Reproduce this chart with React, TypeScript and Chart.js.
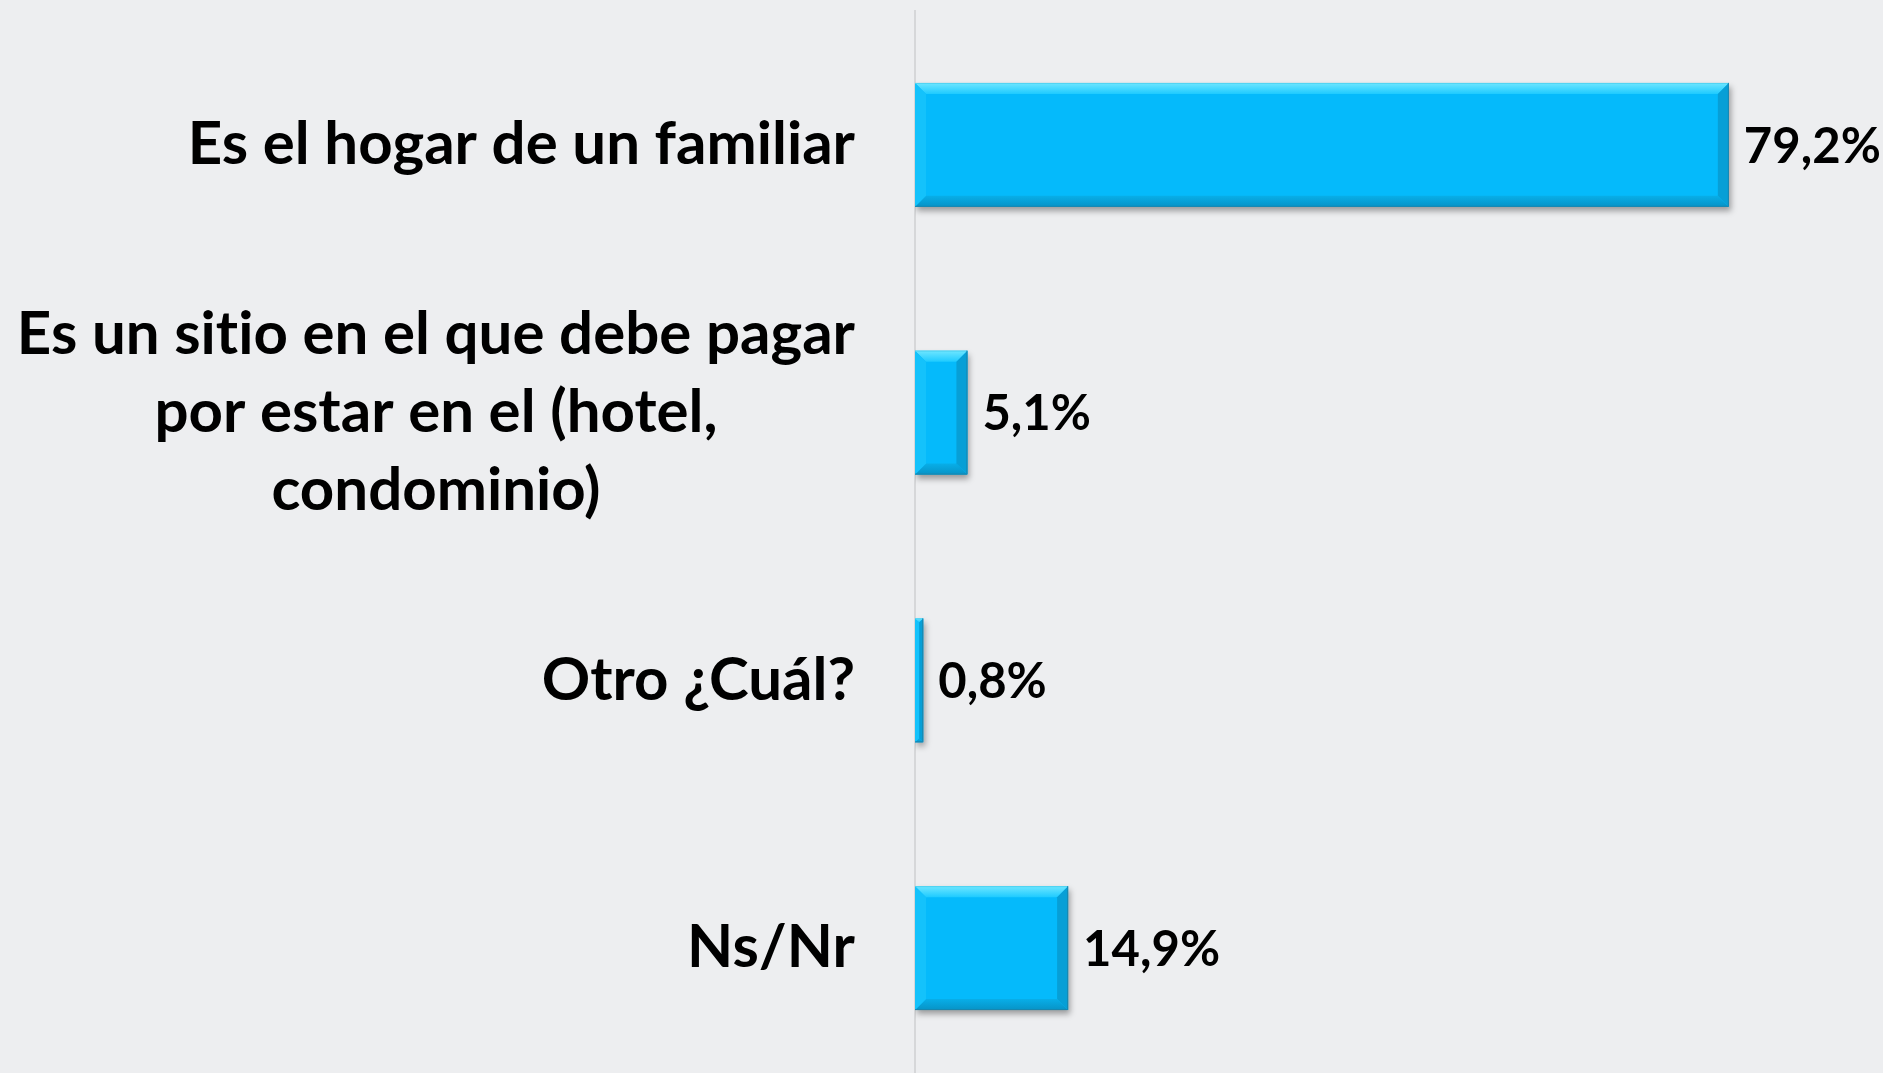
import React, { useEffect, useRef } from "react";
import { Chart, registerables } from "chart.js";

Chart.register(...registerables);

const categories: (string | string[])[] = [
  "Es el hogar de un familiar",
  ["Es un sitio en el que debe pagar", "por estar en el (hotel,", "condominio)"],
  "Otro ¿Cuál?",
  "Ns/Nr",
];
const values: number[] = [79.2, 5.1, 0.8, 14.9];
const valueLabels: string[] = ["79,2%", "5,1%", "0,8%", "14,9%"];

const BG = "#EDEEF0";
const BAR = "#05BAFB";
const FONT_FAMILY = "Lato, 'Open Sans', sans-serif";
const CAT_FONT = `bold 60px ${FONT_FAMILY}`;
const VAL_FONT = `bold 49px ${FONT_FAMILY}`;

const bgPlugin = {
  id: "bgFill",
  beforeDraw(chart: any) {
    const { ctx, width, height } = chart;
    ctx.save();
    ctx.fillStyle = BG;
    ctx.fillRect(0, 0, width, height);
    ctx.restore();
  },
};

const shadowPlugin = {
  id: "barShadow",
  beforeDatasetDraw(chart: any) {
    const ctx = chart.ctx;
    ctx.save();
    ctx.shadowColor = "rgba(0,0,0,0.35)";
    ctx.shadowBlur = 6;
    ctx.shadowOffsetX = 2;
    ctx.shadowOffsetY = 4;
  },
  afterDatasetDraw(chart: any) {
    chart.ctx.restore();
  },
};

function poly(ctx: CanvasRenderingContext2D, pts: number[][], fill: string | CanvasGradient) {
  ctx.beginPath();
  ctx.moveTo(pts[0][0], pts[0][1]);
  for (let i = 1; i < pts.length; i++) ctx.lineTo(pts[i][0], pts[i][1]);
  ctx.closePath();
  ctx.fillStyle = fill;
  ctx.fill();
}

const bevelAndLabels = {
  id: "bevelAndLabels",
  afterDatasetsDraw(chart: any) {
    const ctx: CanvasRenderingContext2D = chart.ctx;
    const meta = chart.getDatasetMeta(0);
    ctx.save();
    try {
      (ctx as any).letterSpacing = "0.01px";
    } catch (e) {}
    meta.data.forEach((bar: any, i: number) => {
      const l = Math.min(bar.base, bar.x);
      const r = Math.max(bar.base, bar.x);
      const t = bar.y - bar.height / 2;
      const b = bar.y + bar.height / 2;
      const w = r - l;
      const bv = Math.min(11, w / 2);
      const gTop = ctx.createLinearGradient(0, t, 0, t + bv);
      gTop.addColorStop(0, "#6FE6FF");
      gTop.addColorStop(1, "#1FCBFF");
      poly(ctx, [[l, t], [r, t], [r - bv, t + bv], [l + bv, t + bv]], gTop);
      const gBot = ctx.createLinearGradient(0, b - bv, 0, b);
      gBot.addColorStop(0, "#08AEE8");
      gBot.addColorStop(1, "#0793C6");
      poly(ctx, [[l, b], [r, b], [r - bv, b - bv], [l + bv, b - bv]], gBot);
      poly(ctx, [[r, t], [r, b], [r - bv, b - bv], [r - bv, t + bv]], "#079FD6");
      poly(ctx, [[l, t], [l, b], [l + bv, b - bv], [l + bv, t + bv]], "#14C2FB");
      ctx.lineWidth = 1;
      ctx.strokeStyle = "#4FD3F2";
      ctx.beginPath();
      ctx.moveTo(l, t + 0.5);
      ctx.lineTo(r, t + 0.5);
      ctx.stroke();
      ctx.strokeStyle = "#1A86AE";
      ctx.beginPath();
      ctx.moveTo(l, b - 0.5);
      ctx.lineTo(r - 0.5, b - 0.5);
      ctx.lineTo(r - 0.5, t);
      ctx.stroke();

      ctx.font = VAL_FONT;
      ctx.fillStyle = "#000000";
      ctx.textAlign = "left";
      ctx.textBaseline = "middle";
      ctx.fillText(valueLabels[i], r + 15, bar.y + 2);
    });

    const yScale = chart.scales.y;
    const rightX = 855;
    const lineH = 78;
    ctx.font = CAT_FONT;
    ctx.fillStyle = "#000000";
    ctx.textBaseline = "middle";
    categories.forEach((lab, i) => {
      const cy = yScale.getPixelForTick(i);
      if (Array.isArray(lab)) {
        const widest = Math.max(...lab.map((s) => ctx.measureText(s).width));
        const cx = rightX - widest / 2;
        ctx.textAlign = "center";
        const n = lab.length;
        lab.forEach((s, k) => {
          ctx.fillText(s, cx, cy + (k - (n - 1) / 2) * lineH);
        });
      } else {
        ctx.textAlign = "right";
        ctx.fillText(lab, rightX, cy);
      }
    });
    ctx.restore();
  },
};

export default function App() {
  const ref = useRef<HTMLCanvasElement | null>(null);

  useEffect(() => {
    const prevMargin = document.body.style.margin;
    document.body.style.margin = "0";
    document.body.style.background = BG;
    const canvas = ref.current!;
    const chart = new Chart(canvas, {
      type: "bar",
      data: {
        labels: categories as any,
        datasets: [
          {
            data: values,
            backgroundColor: BAR,
            borderWidth: 0,
            categoryPercentage: 1,
            barPercentage: 0.463,
          },
        ],
      },
      options: {
        indexAxis: "y",
        animation: false,
        responsive: false,
        devicePixelRatio: 1,
        layout: { padding: { top: 11, bottom: 0, left: 0, right: 0 } },
        plugins: {
          legend: { display: false },
          tooltip: { enabled: false },
          title: { display: false },
        },
        scales: {
          x: {
            min: 0,
            max: 94.2,
            display: false,
          },
          y: {
            grid: { display: false, drawTicks: false },
            border: { display: true, color: "#D6D7D9", width: 2 },
            ticks: { display: false },
            afterFit(scale: any) {
              scale.width = 915;
            },
          },
        },
      },
      plugins: [bgPlugin, shadowPlugin, bevelAndLabels],
    } as any);
    return () => {
      chart.destroy();
      document.body.style.margin = prevMargin;
    };
  }, []);

  return (
    <div
      style={{
        position: "absolute",
        left: 0,
        top: 0,
        width: 1883,
        height: 1073,
        overflow: "hidden",
        background: BG,
      }}
    >
      <canvas ref={ref} width={1883} height={1082} style={{ display: "block" }} />
    </div>
  );
}
